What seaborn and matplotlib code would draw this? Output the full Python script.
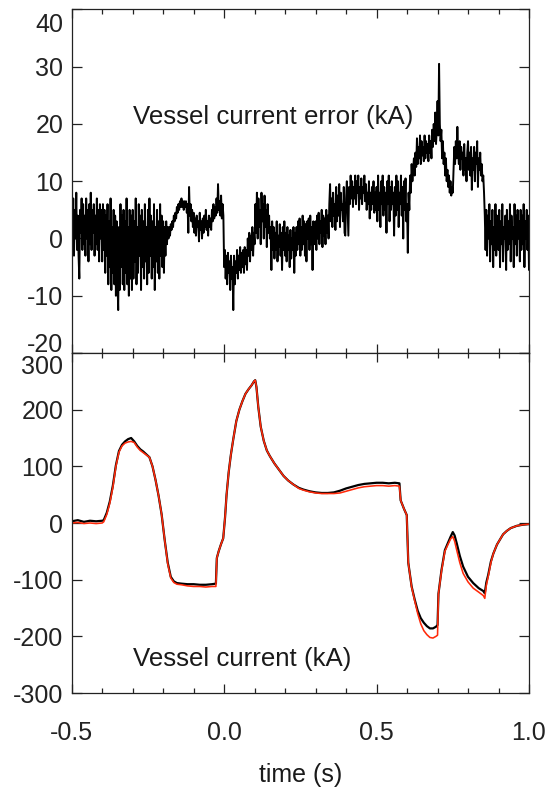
import numpy as np
import pandas as pd
import matplotlib
matplotlib.use("Agg")
import matplotlib.pyplot as plt
import matplotlib.transforms as mtransforms
from matplotlib.ticker import MultipleLocator
import seaborn as sns

# ---------------- data ----------------
# Vessel current error (kA), sampled every 2.5 ms from -0.5 s to 1.0 s
err_values = [
    # -0.500 .. -0.4025
    6, -1, 7, -3, 5, 0, 8, -2, 4, -3, -7, 5, 1, 7, -2, 6, -1, 4, -3, 7,
    0, 5, -4, 6, -1, 8, -2, 5, 1, 6, -3, 4, -1, 7, -2, 5, -4, 6, 0, 5,
    # -0.400 .. -0.3025
    -4, 6, -2, 5, -6, 4, -3, 6, -8, 3, -5, 7, -9, 2, -6, 5, -8, 4, -10, 3,
    -7, -12.5, 2, -9, 6, -5, 4, -8, 5, -9, 3, -6, 7, -8, 2, -10, 5, -7, 4, -9,
    # -0.300 .. -0.2025
    5, -7, 3, -4, 7, -8, 2, -6, 6, -3, 4, -9, 5, -5, 3, -7, 6, -4, 2, -8,
    5, -6, 7, -3, 4, -7, 3, -5, 6, -9, 2, -4, 5, -6, 3, -7, 6, -3, 4, -5,
    # -0.200 .. -0.1025
    3, -6, 2, -3, 3, -1, 2, 0, 2, 0.5, 2.5, 1.5, 3, 2, 4, 3, 4.5, 3.5, 5.5, 4.5,
    6, 5, 6.5, 5.5, 7, 5.5, 6.5, 5, 6.5, 5.5, 6.5, 4.5, 6, 1, 9, 4, 6, 3, 5, 2,
    # -0.100 .. -0.0025
    4.5, 1, 3.5, 0.5, 4, 2, 3, -0.5, 4.5, 1.5, 3, 0, 3.5, 1, 4, 2, 5, 1.5, 3, 0.5,
    4, 2, 3.5, 1.5, 5, 3, 6, 3.5, 5.5, 4, 7, 4.5, 9.5, 5, 6.5, 4, 7.5, 3.5, 6, 4,
    # 0.000 .. 0.0975
    -5, -2, -7, -3, -8, -2.5, -6, -4, -9, -3, -7, -5, -12.5, -3, -8, -4, -6, -2, -7, -3,
    -5.5, -1.5, -6, -2.5, -5, -2, -6, -1.5, -4.5, -2, -5.5, 0, -3, 1, -4, 0.5, -2, 2, -3, 1,
    # 0.100 .. 0.1975
    -1, 6, 1, 8, 0, 7, 2, 5, -1, 8, 3, 6, 0, 7.5, 2, 5, -1.5, 6, 1, 4,
    0, 2, -5.5, 3, -2, 2, -3.5, 1, -2, 3, -4, 0.5, -1.5, 2.5, -3, 1, -5.5, 2, -2, 3,
    # 0.200 .. 0.2975
    -3, 1, -4, 2, -2, 0.5, -5, 1.5, -3.5, 0, -2, 2, -6, 1, -3, 2, -2, 3, -1, 3.5,
    -3, 2, -2, 4, -1, 3, -3, 2.5, -4, 3, 0, 3.5, -2, 4, -1, 2, -5.5, 3, -1, 2,
    # 0.300 .. 0.3975
    3, -2, 4, 0, 4.5, -1, 3, 1, 5, -1.5, 4, 0.5, 3.5, -1, 5, 1, 4, 0, 6, 9.5,
    3, 7, 2, 8, 4, 6, 1.5, 9, 3, 7.5, 4, 9.5, 2, 8, 5, 6, 3, 9, 1, 0.5,
    # 0.400 .. 0.4975
    7, 10, 5, 0.5, 9, 6, 11, 7, 10, 5.5, 9, 7, 11, 6, 10, 8, 11, 5, 9, 7,
    10.5, 6, 9, 8, 11, 6.5, 9.5, 5, 8, 6, 10, 3.5, 8, 5, 9, 6, 10, 4.5, 8, 5,
    # 0.500 .. 0.5975
    9, 3, 11, 5, 8, 2, 10, 6, 11, 4, 9, 5, 8, 1, 10, 6, 11, 3, 9, 5,
    10, 6, 8, 0.5, 9, 4, 11, 5, 10, 2, 8, 6, 11, 4, 9, 0, 10, 5, 10.5, 3,
    # 0.600 .. 0.6975
    6, -2.5, 8, 5, 11, 8, 13, 10, 12, 14, 11, 15, 12.5, 17.5, 13, 16, 14, 18, 13, 17,
    14.5, 16, 13.5, 18, 14, 17, 15, 16.5, 13.5, 18, 15, 17, 14, 19, 16, 20, 17, 22, 16.5, 19,
    # 0.700 .. 0.7975
    24, 18, 30.5, 20, 17, 19, 14, 17, 13, 15, 11, 14, 10, 12, 9, 11, 8, 10, 7.5, 9,
    8, 12, 16, 13, 17, 14, 19.5, 15, 13, 17, 12, 16, 14, 15, 11, 16.5, 12, 14, 10, 15,
    # 0.800 .. 0.8975
    17, 12, 15, 11, 16, 8.5, 14, 12, 16, 10, 15, 13, 17, 9, 14, 12, 15, 11, 13, 10,
    11, 8, 4, -2, 5, -3, 4, 0, 6, -4, 3, -1, 5, -5, 2, -2, 6, -3, 4, 0,
    # 0.900 .. 1.000
    -2, 5, -5, 3, -1, 6, -4, 2, 0, 4, -5.5, 5, -2, 3, -1, 6, -4, 4, 0, 2,
    -5, 6, -1, 4, -3, 5, 0, 3, -4, 5, -2, 4, -1, 6, -5, 3, 0, 5, -2, 4, -5.5,
]
err_time = np.linspace(-0.5, 1.0, len(err_values))

# Vessel current (kA): measured (black) and model (red)
cur_time = [
    -0.500, -0.480, -0.460, -0.440, -0.420, -0.400, -0.395, -0.385, -0.375, -0.365,
    -0.355, -0.345, -0.335, -0.325, -0.315, -0.305, -0.295, -0.285, -0.275, -0.265,
    -0.255, -0.245, -0.235, -0.225, -0.215, -0.205, -0.195, -0.185, -0.175, -0.165,
    -0.155, -0.140, -0.120, -0.100, -0.080, -0.060, -0.040, -0.027, -0.024, -0.018,
    -0.010, -0.003, 0.003, 0.008, 0.015, 0.022, 0.030, 0.040, 0.050, 0.060,
    0.070, 0.080, 0.090, 0.098, 0.102, 0.106, 0.112, 0.120, 0.130, 0.140,
    0.150, 0.165, 0.180, 0.195, 0.210, 0.227, 0.245, 0.260, 0.280, 0.300,
    0.320, 0.340, 0.360, 0.380, 0.400, 0.420, 0.440, 0.460, 0.480, 0.500,
    0.520, 0.540, 0.560, 0.575, 0.579, 0.590, 0.599, 0.604, 0.615, 0.625,
    0.635, 0.645, 0.655, 0.665, 0.675, 0.685, 0.695, 0.700, 0.703, 0.713,
    0.724, 0.735, 0.743, 0.750, 0.756, 0.763, 0.773, 0.784, 0.800, 0.817,
    0.835, 0.850, 0.855, 0.860, 0.866, 0.875, 0.883, 0.895, 0.905, 0.915,
    0.927, 0.940, 0.960, 0.980, 1.000,
]
cur_measured = [
    3, 5, 2, 4, 3, 4, 5, 18, 38, 66,
    102, 127, 138, 144, 148, 150, 144, 136, 130, 126,
    121, 116, 100, 76, 48, 15, -30, -70, -95, -103,
    -106, -107, -108, -108, -109, -109, -108, -107, -62, -50,
    -37, -27, 10, 50, 90, 120, 148, 180, 200, 215,
    228, 236, 243, 250, 252, 240, 205, 170, 145, 128,
    118, 105, 94, 83, 75, 68, 62, 59, 56, 54,
    53, 53, 54, 57, 61, 64, 67, 69, 70, 71,
    71, 70, 71, 70, 40, 25, 14, -70, -112, -135,
    -155, -168, -176, -182, -186, -186, -183, -180, -125, -83,
    -48, -34, -24, -16, -22, -36, -58, -77, -95, -106,
    -115, -120, -124, -105, -92, -68, -54, -38, -29, -20,
    -14, -9, -5, -3, -2,
]
cur_model = [
    0, 1, -1, 0, -1, 0, 2, 15, 35, 63,
    100, 125, 136, 141, 143, 144, 142, 134, 128, 124,
    120, 116, 100, 76, 48, 15, -30, -72, -97, -105,
    -108, -109, -111, -112, -112, -113, -112, -112, -62, -50,
    -37, -27, 10, 50, 90, 120, 148, 180, 200, 215,
    228, 236, 243, 250, 252, 240, 205, 170, 145, 128,
    118, 105, 94, 83, 75, 68, 61, 58, 55, 53,
    52, 52, 52, 53, 56, 59, 62, 64, 65, 66,
    66, 65, 66, 65, 40, 25, 14, -70, -113, -137,
    -160, -178, -190, -197, -202, -203, -200, -198, -125, -85,
    -50, -37, -28, -24, -32, -48, -70, -89, -104, -115,
    -122, -128, -133, -110, -95, -70, -54, -38, -29, -20,
    -14, -9, -5, -3, -2,
]

x_major = [-0.5, 0.0, 0.5, 1.0]
x_labels = ["-0.5", "0.0", "0.5", "1.0"]
top_yticks = [-20, -10, 0, 10, 20, 30, 40]
bot_yticks = [-300, -200, -100, 0, 100, 200, 300]

# ---------------- figure ----------------
sns.set_theme(style="ticks")
plt.rcParams["font.family"] = ["Liberation Sans", "DejaVu Sans"]
txt_color = "#1a1a1a"
plt.rcParams["text.color"] = txt_color
plt.rcParams["axes.labelcolor"] = txt_color
plt.rcParams["xtick.color"] = "#222222"
plt.rcParams["ytick.color"] = "#222222"

fig = plt.figure(figsize=(5.53, 7.91), dpi=100)
ax1 = fig.add_axes([0.12966, 0.55373, 0.82694, 0.43426])
ax2 = fig.add_axes([0.12966, 0.12389, 0.82694, 0.42984])

df_err = pd.DataFrame({"time": err_time, "err": err_values})
sns.lineplot(data=df_err, x="time", y="err", ax=ax1, color="black",
             linewidth=1.4, estimator=None, sort=False)

df_cur = pd.DataFrame({"time": cur_time, "meas": cur_measured, "model": cur_model})
sns.lineplot(data=df_cur, x="time", y="meas", ax=ax2, color="black",
             linewidth=1.6, estimator=None, sort=False)
sns.lineplot(data=df_cur, x="time", y="model", ax=ax2, color="#ff2a0a",
             linewidth=1.15, estimator=None, sort=False)

for ax in (ax1, ax2):
    ax.set_xlim(-0.5, 1.0)
    ax.xaxis.set_minor_locator(MultipleLocator(0.1))
    ax.tick_params(axis="both", which="both", direction="in",
                   top=True, right=True, bottom=True, left=True,
                   width=0.9, labelsize=18)
    ax.tick_params(axis="x", which="major", length=6.5, pad=20)
    ax.tick_params(axis="x", which="minor", length=3.5)
    ax.tick_params(axis="y", which="major", length=7.5, pad=6)
    for sp in ax.spines.values():
        sp.set_linewidth(0.9)
        sp.set_color("#222222")
    ax.set_ylabel("")
    ax.set_xlabel("")

ax1.set_ylim(-20, 40)
ax1.set_yticks(top_yticks, labels=[str(v) for v in top_yticks])
ax1.set_xticks(x_major, labels=[""] * len(x_major))

ax2.set_ylim(-300, 300)
ax2.set_yticks(bot_yticks, labels=[str(v) for v in bot_yticks])
ax2.set_xticks(x_major, labels=x_labels)
ax2.set_xlabel("time (s)", fontsize=18, labelpad=13)

# shift the boundary tick labels the way the original does
def shift(label, dy_px):
    off = mtransforms.ScaledTranslation(0, dy_px / 100.0, fig.dpi_scale_trans)
    label.set_transform(label.get_transform() + off)

for lab in ax1.get_yticklabels():
    if lab.get_text() == "40":
        shift(lab, -13)
    if lab.get_text() == "-20":
        shift(lab, 10)
for lab in ax2.get_yticklabels():
    if lab.get_text() == "300":
        shift(lab, -12)

ax1.text(-0.299, 20, "Vessel current error (kA)", fontsize=18.6,
         ha="left", va="baseline", color=txt_color)
ax2.text(-0.298, -252, "Vessel current (kA)", fontsize=18.6,
         ha="left", va="baseline", color=txt_color)

fig.savefig("out.png", dpi=100)
